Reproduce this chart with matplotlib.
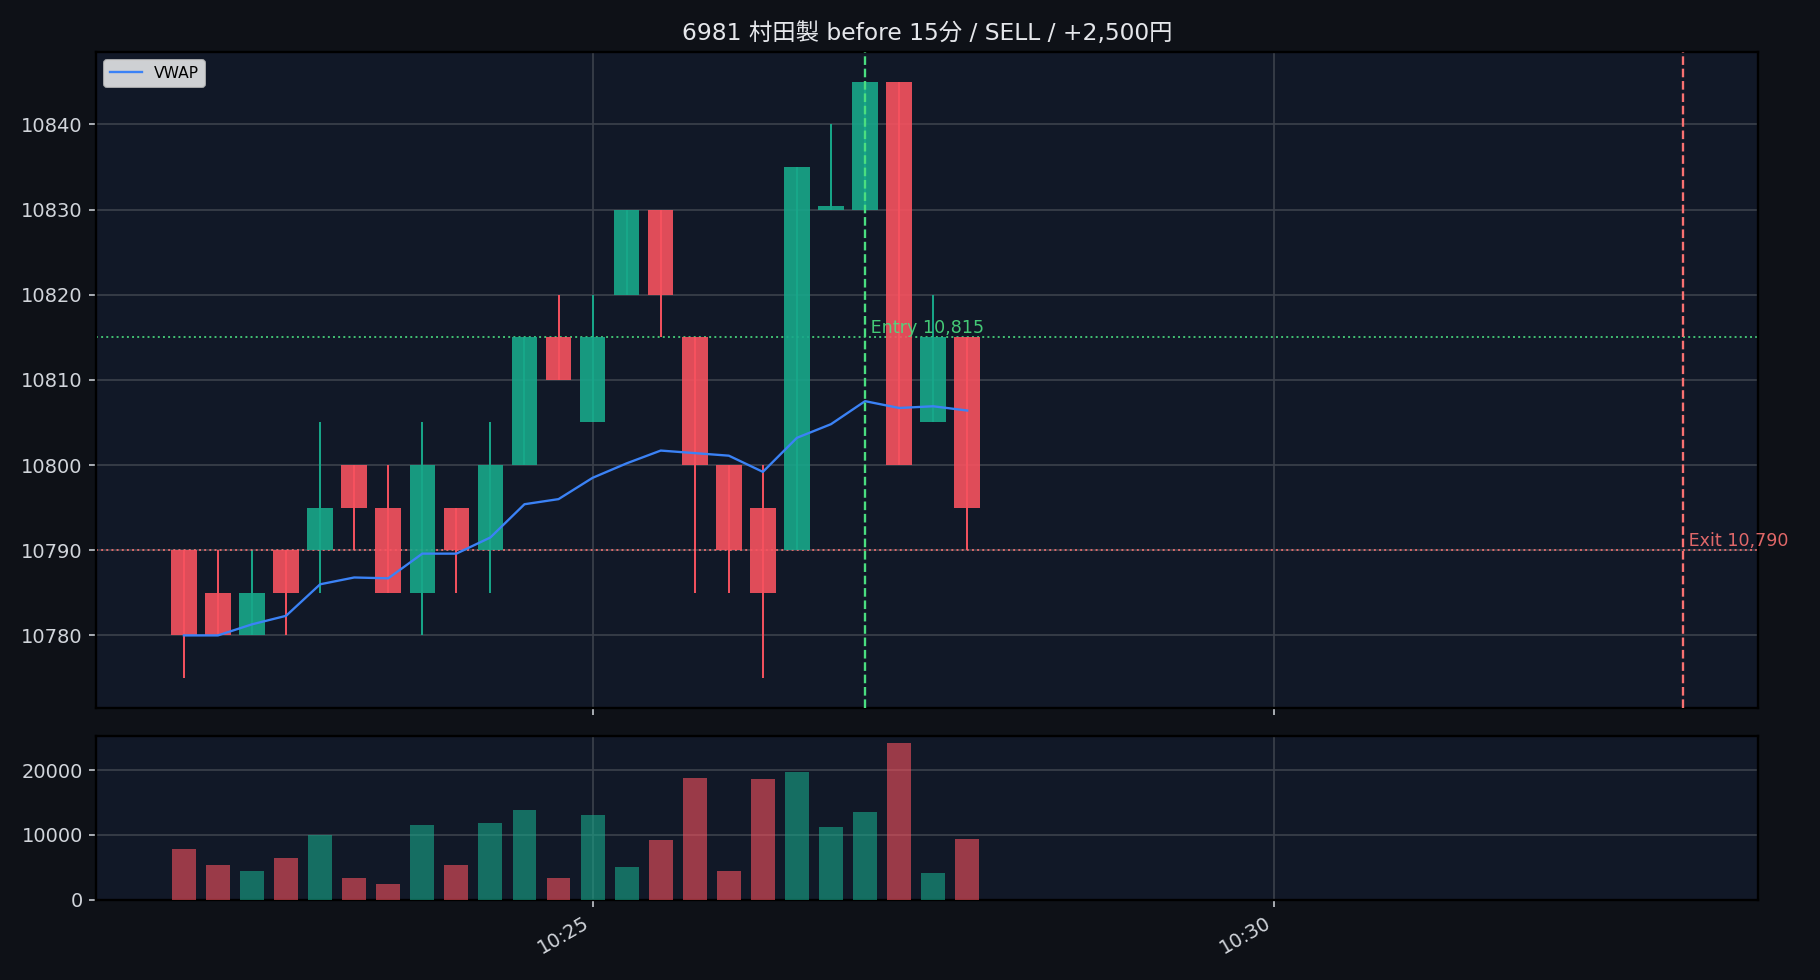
import matplotlib
matplotlib.use("Agg")
import matplotlib.pyplot as plt
import matplotlib.dates as mdates
import pandas as pd
import numpy as np

plt.rcParams['font.family'] = ['DejaVu Sans', 'Noto Sans CJK JP']

# 15-second bars
times = ["10:22:00", "10:22:15", "10:22:30", "10:22:45",
         "10:23:00", "10:23:15", "10:23:30", "10:23:45",
         "10:24:00", "10:24:15", "10:24:30", "10:24:45",
         "10:25:00", "10:25:15", "10:25:30", "10:25:45",
         "10:26:00", "10:26:15", "10:26:30", "10:26:45",
         "10:27:00", "10:27:15", "10:27:30", "10:27:45"]
opens = [10790, 10785, 10780, 10790, 10790, 10800, 10795, 10785,
         10795, 10790, 10800, 10815, 10805, 10820, 10830, 10815,
         10800, 10795, 10790, 10830, 10830, 10845, 10805, 10815]
highs = [10790, 10790, 10790, 10790, 10805, 10800, 10800, 10805,
         10795, 10805, 10815, 10820, 10820, 10830, 10830, 10815,
         10800, 10800, 10835, 10840, 10845, 10845, 10820, 10815]
lows = [10775, 10780, 10780, 10780, 10785, 10790, 10785, 10780,
        10785, 10785, 10800, 10810, 10805, 10820, 10815, 10785,
        10785, 10775, 10790, 10830, 10830, 10800, 10805, 10790]
closes = [10780, 10780, 10785, 10785, 10795, 10795, 10785, 10800,
          10790, 10800, 10815, 10810, 10815, 10830, 10820, 10800,
          10790, 10785, 10835, 10830, 10845, 10800, 10815, 10795]
volumes = [7800, 5300, 4400, 6400, 9950, 3300, 2400, 11500,
           5300, 11800, 13800, 3300, 13000, 5000, 9200, 18700,
           4400, 18600, 19650, 11200, 13500, 24100, 4100, 9300]
vwap = [10780.0, 10780.0, 10781.3, 10782.3, 10786.0, 10786.8, 10786.7, 10789.6,
        10789.6, 10791.5, 10795.4, 10796.0, 10798.5, 10800.2, 10801.7, 10801.4,
        10801.1, 10799.2, 10803.2, 10804.8, 10807.5, 10806.7, 10806.9, 10806.4]
# doji flag: last-tick direction for equal open/close
doji_up = [True]

entry_time = "10:27:00"
entry_price = 10815
exit_time = "10:33:00"
exit_price = 10790
title = "6981 村田製 before 15分 / SELL / +2,500円"

BG = "#0e1117"
AX_BG = "#111827"
UP = "#18a88a"
DOWN = "#f7525f"
ENTRY = "#4ade80"
EXIT = "#f87171"
TXT = "#d1d5db"
GRID = "#3a3f4a"

day = "2024-06-14 "
t = mdates.date2num(pd.to_datetime([day + s for s in times]))
t_entry = mdates.date2num(pd.Timestamp(day + entry_time))
t_exit = mdates.date2num(pd.Timestamp(day + exit_time))
sec = 1 / 86400

fig = plt.figure(figsize=(13, 7), dpi=140, facecolor=BG)
gs = fig.add_gridspec(2, 1, height_ratios=[4, 1], left=0.053, right=0.966,
                      top=0.947, bottom=0.082, hspace=0.068)
ax = fig.add_subplot(gs[0])
axv = fig.add_subplot(gs[1], sharex=ax)

colors = []
for i in range(len(t)):
    o, h, l, c = opens[i], highs[i], lows[i], closes[i]
    col = UP if c >= o else DOWN
    colors.append(col)
    ax.vlines(t[i], l, h, color=col, lw=1.0, zorder=2)
    ax.bar(t[i], max(abs(c - o), 0.4), bottom=min(o, c), width=11.25 * sec,
           color=col, alpha=0.9, zorder=3)

ax.plot(t, vwap, color="#3b82f6", lw=1.2, label="VWAP", zorder=4)

ax.axhline(entry_price, color=ENTRY, ls=":", lw=1, alpha=0.85, zorder=2.5)
ax.axhline(exit_price, color=EXIT, ls=":", lw=1, alpha=0.85, zorder=2.5)
ax.axvline(t_entry, color=ENTRY, ls="--", lw=1.2, zorder=4)
ax.axvline(t_exit, color=EXIT, ls="--", lw=1.2, zorder=4)
ax.text(t_entry, entry_price, f" Entry {entry_price:,}", color=ENTRY,
        fontsize=9, va="bottom", alpha=0.9, zorder=5)
ax.text(t_exit, exit_price, f" Exit {exit_price:,}", color=EXIT,
        fontsize=9, va="bottom", alpha=0.9, zorder=5)

axv.bar(t, volumes, width=10.5 * sec, color=colors, alpha=0.6, zorder=3)
axv.set_ylim(0, max(volumes) * 1.05)

x0 = mdates.date2num(pd.Timestamp(day + "10:21:21.5"))
x1 = mdates.date2num(pd.Timestamp(day + "10:33:33.3"))
ax.set_xlim(x0, x1)
ax.set_ylim(10771.5, 10848.5)

axv.xaxis.set_major_locator(mdates.MinuteLocator(byminute=range(0, 60, 5)))
axv.xaxis.set_major_formatter(mdates.DateFormatter("%H:%M"))

for a in (ax, axv):
    a.set_facecolor(AX_BG)
    a.tick_params(colors=TXT, labelsize=10)
    a.grid(True, color=GRID, lw=0.9, zorder=1)
    for s in a.spines.values():
        s.set_color("black")
        s.set_linewidth(1.2)

ax.tick_params(labelbottom=False)
for lbl in axv.get_xticklabels():
    lbl.set_rotation(30)
    lbl.set_ha("right")

ax.legend(loc="upper left", fontsize=8)
ax.set_title(title, color="#e5e7eb", fontsize=12)

fig.savefig("out.png", dpi=140, facecolor=BG)
